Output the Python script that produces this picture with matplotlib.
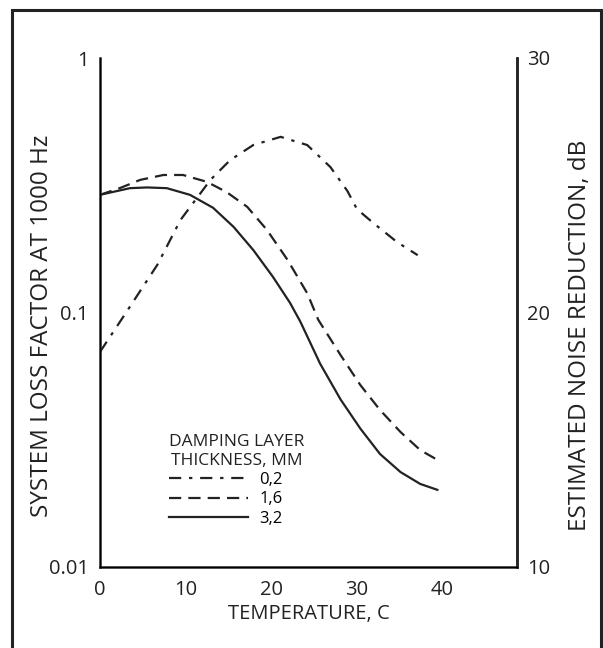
"""
Loss factor vs temperature for three damping layer thicknesses
"""
import matplotlib
matplotlib.use('Agg')
import matplotlib.pyplot as plt
from matplotlib.lines import Line2D
from matplotlib.patches import Rectangle

plt.rcParams['font.family'] = ['Open Sans', 'DejaVu Sans']

# data
temp_02 = [0, 2.7, 6.7, 9.4, 12.9, 15.2, 17.9, 21.1, 24.2, 26.9, 28.9, 30.0, 31.9, 34.7, 37.1]
loss_02 = [0.070, 0.096, 0.154, 0.231, 0.332, 0.397, 0.455, 0.49, 0.455, 0.373, 0.30, 0.255, 0.225, 0.189, 0.168]

temp_16 = [0, 2.3, 4.7, 7.4, 9.7, 12.5, 14.8, 17.2, 19.5, 21.9, 24.2, 25.5, 28.1, 30.4, 32.7, 35.1, 37.4, 39.8]
loss_16 = [0.29, 0.308, 0.332, 0.347, 0.347, 0.326, 0.297, 0.26, 0.211, 0.161, 0.119, 0.0935,
           0.068, 0.0519, 0.0414, 0.0339, 0.0288, 0.0259]

temp_32 = [0, 3.5, 5.5, 7.8, 10.5, 13.2, 15.6, 17.9, 20.2, 22.2, 23.4, 25.7, 28.1, 30.4, 32.7, 35.1, 37.4, 39.4]
loss_32 = [0.29, 0.308, 0.31, 0.308, 0.29, 0.258, 0.217, 0.176, 0.138, 0.109, 0.092, 0.0630,
           0.0455, 0.0350, 0.0278, 0.0236, 0.0212, 0.0201]

thickness = ['0,2', '1,6', '3,2']
x_ticks = [0, 10, 20, 30, 40]
left_ticks = [0.01, 0.1, 1]
left_labels = ['0.01', '0.1', '1']
right_ticks = [10, 20, 30]

ink = '#222222'
styles = [(0, (5.5, 3.5, 1.5, 3.5)), (0, (5.5, 3.2)), '-']

fig = plt.figure(figsize=(6.03, 6.48), dpi=100)
ax = fig.add_axes([100 / 603, 81 / 648, 417 / 603, 509 / 648])

lw = 1.6
ax.plot(temp_02, loss_02, color=ink, lw=lw, linestyle=styles[0])
ax.plot(temp_16, loss_16, color=ink, lw=lw, linestyle=styles[1])
ax.plot(temp_32, loss_32, color=ink, lw=lw, linestyle=styles[2])

ax.set_yscale('log')
ax.set_ylim(0.01, 1)
ax.set_xlim(0, 48.7)
ax.set_yticks(left_ticks)
ax.set_yticklabels(left_labels)
ax.minorticks_off()
ax.set_xticks(x_ticks)
ax.tick_params(axis='both', length=0, labelsize=14.5, colors=ink)
ax.tick_params(axis='y', pad=8)
ax.tick_params(axis='x', pad=9.5)
ax.spines['top'].set_visible(False)
for s in ['left', 'right', 'bottom']:
    ax.spines[s].set_linewidth(1.8)
    ax.spines[s].set_color(ink)
ax.set_xlabel('TEMPERATURE, C', fontsize=14.5, color=ink, labelpad=3)

ax2 = ax.twinx()
ax2.set_ylim(10, 30)
ax2.set_yticks(right_ticks)
ax2.tick_params(axis='y', length=0, labelsize=14.5, colors=ink, pad=7)
ax2.spines['top'].set_visible(False)
ax2.spines['right'].set_linewidth(1.8)
ax2.spines['right'].set_color(ink)

# axis titles placed in figure pixels
fig.text(42 / 603, 1 - 326 / 648, 'SYSTEM LOSS FACTOR AT 1000 Hz', rotation=90,
         ha='center', va='center', fontsize=17.5, color=ink)
fig.text(580 / 603, 1 - 335 / 648, 'ESTIMATED NOISE REDUCTION, dB', rotation=90,
         ha='center', va='center', fontsize=17.5, color=ink)

handles = [Line2D([], [], color=ink, lw=lw, linestyle=s) for s in styles]
leg = ax.legend(handles, thickness, title='DAMPING LAYER\nTHICKNESS, MM', frameon=False,
                fontsize=12, title_fontsize=12.5, handlelength=4.7, handletextpad=0.7,
                labelspacing=0.2, loc='upper left', bbox_to_anchor=(0.13, 0.29),
                alignment='left')
leg.get_title().set_color(ink)
leg.get_title().set_multialignment('center')

# outer frame of the figure
fig.patches.append(Rectangle((12 / 603, -0.05), 589 / 603, 1.05 - 10 / 648, transform=fig.transFigure,
                             fill=False, lw=2.2, edgecolor=ink))

fig.savefig('out.png', dpi=100)
